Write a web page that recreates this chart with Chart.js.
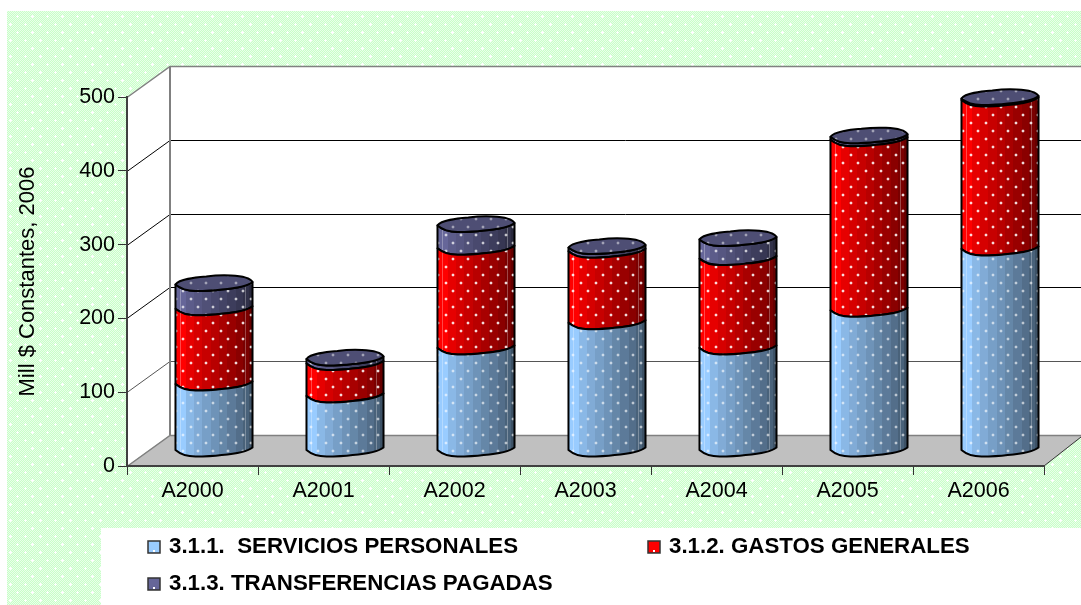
<!DOCTYPE html>
<html><head><meta charset="utf-8">
<style>html,body{margin:0;padding:0;background:#fff}canvas{display:block}</style>
<script src="https://cdn.jsdelivr.net/npm/chart.js@4"></script>
</head><body><canvas id="c" width="1081" height="605"></canvas>
<script>
const categories = ['A2000','A2001','A2002','A2003','A2004','A2005','A2006'];
const serviciosPersonales = [90, 74, 139, 173, 139, 190, 273];
const gastosGenerales = [102, 44, 135, 97, 121, 231, 202];
const transferenciasPagadas = [33, 6, 31, 5, 26, 4, 2];
const seriesNames = ['3.1.1.  SERVICIOS PERSONALES','3.1.2. GASTOS GENERALES','3.1.3. TRANSFERENCIAS PAGADAS'];
const yTicks = [0,100,200,300,400,500];
const yTitle = 'Mill $ Constantes, 2006';

const SERIES_HEX = ['#99CCFF','#FF0000','#666699'];
const SERIES_RGB = [[153,204,255],[255,0,0],[102,102,153]];
const DOT_ALPHA = [.65,.9,.75];
const DEPTH = {x:43,y:-31};

function tile(w,h,draw){const c=document.createElement('canvas');c.width=w;c.height=h;draw(c.getContext('2d'));return c;}
const bgTile = tile(30,16,g=>{
  for(let y=0;y<16;y++)for(let x=0;x<30;x++){g.fillStyle=((x+y)%2)?'#C8FFC8':'#EAFFEA';g.fillRect(x,y,1,1);}
  g.fillStyle='#fff';
  for(const [x,y] of [[2,0],[17,0],[10,8],[25,8]]){g.fillRect(x-1,y,3,1);g.fillRect(x,y-1<0?15:y-1,1,1);g.fillRect(x,y+1,1,1);}
});
const dotTile = tile(30,16,g=>{
  for(const [x,y] of [[2,2],[17,2],[10,10],[25,10]]){
    g.fillStyle='rgba(255,255,255,.95)';g.fillRect(x,y,2,2);
    g.fillStyle='rgba(255,255,255,.25)';g.fillRect(x-1,y,1,2);g.fillRect(x+2,y,1,2);g.fillRect(x,y-1,2,1);g.fillRect(x,y+2,2,1);
  }
});
function mix(rgb,f){return 'rgb('+rgb.map(v=>Math.round(v*f)).join(',')+')';}
function bandGradient(ctx,x0,x1,rgb){
  const g=ctx.createLinearGradient(x0,0,x1,0);
  const stops=[0,.14,.24,.35,.46,.57,.67,.78,.88,.95,1];
  const fac=[1,.9,.84,.78,.72,.66,.6,.54,.48,.4];
  for(let i=0;i<fac.length;i++){g.addColorStop(stops[i],mix(rgb,fac[i]));g.addColorStop(stops[i+1],mix(rgb,fac[i]));}
  return g;
}
function frontArc(ctx,x0,w,Y){
  ctx.bezierCurveTo(x0+.06*w,Y+4,x0+.14*w,Y+6.5,x0+.26*w,Y+6.5);
  ctx.bezierCurveTo(x0+.4*w,Y+6.5,x0+.5*w,Y+6,x0+.6*w,Y+5);
  ctx.bezierCurveTo(x0+.75*w,Y+4,x0+.92*w,Y+2.5,x0+w,Y-2.5);
}
function frontArcReverse(ctx,x0,w,Y){
  ctx.bezierCurveTo(x0+.92*w,Y+2.5,x0+.75*w,Y+4,x0+.6*w,Y+5);
  ctx.bezierCurveTo(x0+.5*w,Y+6,x0+.4*w,Y+6.5,x0+.26*w,Y+6.5);
  ctx.bezierCurveTo(x0+.14*w,Y+6.5,x0+.06*w,Y+4,x0,Y);
}
function backArc(ctx,x0,w,Y){
  ctx.bezierCurveTo(x0+.97*w,Y-4,x0+.88*w,Y-6,x0+.72*w,Y-6.5);
  ctx.bezierCurveTo(x0+.6*w,Y-7,x0+.5*w,Y-6.5,x0+.4*w,Y-5.5);
  ctx.bezierCurveTo(x0+.25*w,Y-4.5,x0+.05*w,Y-3,x0,Y+2.5);
}
Chart.BarElement.prototype.draw = function(ctx){
  const p=this.getProps(['x','y','base','width'],true);
  const ds=SERIES_HEX.indexOf(this.options.backgroundColor);
  const rgb=SERIES_RGB[ds];
  const w=p.width,x0=p.x-w/2+DEPTH.x/2,x1=x0+w;
  const yt=p.y+DEPTH.y/2,yb=p.base+DEPTH.y/2;
  const dots=ctx.createPattern(dotTile,'repeat');
  ctx.save();
  ctx.beginPath();
  ctx.moveTo(x0,yb);
  frontArc(ctx,x0,w,yb);
  ctx.lineTo(x1,yt-2.5);
  frontArcReverse(ctx,x0,w,yt);
  ctx.closePath();
  ctx.fillStyle=bandGradient(ctx,x0,x1,rgb);ctx.fill();
  ctx.save();ctx.clip();
  ctx.globalAlpha=DOT_ALPHA[ds];
  ctx.fillStyle=dots;ctx.fillRect(x0,yt-10,w,yb-yt+20);
  ctx.globalAlpha=1;
  ctx.fillStyle='rgba(255,255,255,.28)';
  ctx.fillRect(Math.round(x0+.06*w),yt-10,1,yb-yt+20);
  ctx.fillRect(Math.round(x0+.9*w),yt-10,1,yb-yt+20);
  ctx.restore();
  ctx.strokeStyle='#000';ctx.lineWidth=2;ctx.lineJoin='round';ctx.stroke();
  if(ds===2){
    ctx.beginPath();ctx.moveTo(x0,yt);
    frontArc(ctx,x0,w,yt);backArc(ctx,x0,w,yt-2.5);ctx.closePath();
    ctx.fillStyle=mix(rgb,.76);ctx.fill();
    ctx.save();ctx.clip();ctx.globalAlpha=.5;ctx.fillStyle=dots;ctx.fillRect(x0,yt-14,w,24);ctx.restore();
    ctx.stroke();
  }
  ctx.restore();
};

const scenery={id:'scenery',
  beforeDraw(chart){
    const ctx=chart.ctx,W=chart.width,H=chart.height,ys=chart.scales.y,a=chart.chartArea;
    ctx.save();
    ctx.fillStyle='#fff';ctx.fillRect(0,0,W,H);
    ctx.fillStyle=ctx.createPattern(bgTile,'repeat');
    ctx.fillRect(7,11,W-7,517);ctx.fillRect(7,528,94,H-528);
    const dx=DEPTH.x,dy=DEPTH.y,l=a.left,r=a.right;
    const y0=ys.getPixelForValue(0),yT=ys.getPixelForValue(500);
    ctx.fillStyle='#fff';
    ctx.beginPath();ctx.moveTo(l,y0);ctx.lineTo(l,yT);ctx.lineTo(l+dx,yT+dy);ctx.lineTo(W,yT+dy);ctx.lineTo(W,y0+dy);ctx.lineTo(l+dx,y0+dy);ctx.closePath();ctx.fill();
    ctx.fillStyle='#C0C0C0';
    ctx.beginPath();ctx.moveTo(l,y0);ctx.lineTo(l+dx,y0+dy);ctx.lineTo(W,y0+dy);ctx.lineTo(W,y0+dy+2);ctx.lineTo(r,y0);ctx.closePath();ctx.fill();
    for(const v of yTicks){
      const y=Math.round(ys.getPixelForValue(v))+.5;
      const edge=(v===0||v===500);
      ctx.strokeStyle=edge?'#808080':(v===100?'#555':'#000');ctx.lineWidth=edge?1.5:1;
      ctx.beginPath();ctx.moveTo(l,y);ctx.lineTo(l+dx,y+dy);ctx.lineTo(W,y+dy);ctx.stroke();
    }
    ctx.strokeStyle='#808080';ctx.lineWidth=2;
    ctx.beginPath();ctx.moveTo(l+dx,yT+dy);ctx.lineTo(l+dx,y0+dy);ctx.stroke();
    ctx.lineWidth=1;ctx.beginPath();ctx.moveTo(r,y0);ctx.lineTo(W,y0+dy+2);ctx.strokeStyle='#333';ctx.stroke();
    ctx.restore();
  },
  afterDraw(chart){
    const ctx=chart.ctx;
    ctx.save();
    ctx.font='bold 22.3px "Liberation Sans"';ctx.textBaseline='middle';
    const spots=[[148,547],[648,547],[148,584]];
    chart.data.datasets.forEach((d,i)=>{
      const [x,y]=spots[i];
      ctx.fillStyle=mix(SERIES_RGB[i],1);ctx.fillRect(x,y-6,12,12);
      ctx.fillStyle='#fff';ctx.fillRect(x+5,y+3,2,2);
      ctx.strokeStyle='#333';ctx.lineWidth=1.5;ctx.strokeRect(x,y-6,12,12);
      ctx.fillStyle='#000';ctx.fillText(d.label,x+21,y);
    });
    ctx.restore();
  }
};

new Chart(document.getElementById('c'),{
  type:'bar',
  data:{labels:categories,datasets:[
    {label:seriesNames[0],data:serviciosPersonales,backgroundColor:SERIES_HEX[0],stack:'s'},
    {label:seriesNames[1],data:gastosGenerales,backgroundColor:SERIES_HEX[1],stack:'s'},
    {label:seriesNames[2],data:transferenciasPagadas,backgroundColor:SERIES_HEX[2],stack:'s'}
  ]},
  options:{
    responsive:false,animation:false,
    layout:{padding:{left:15,top:97,right:37,bottom:0}},
    datasets:{bar:{barPercentage:.588,categoryPercentage:1,clip:false}},
    plugins:{legend:{display:false},tooltip:{enabled:false},title:{display:false}},
    scales:{
      x:{stacked:true,
        grid:{drawOnChartArea:false,drawTicks:true,tickLength:9,color:'#333',lineWidth:1},
        border:{color:'#404040',width:2},
        ticks:{color:'#000',font:{family:'"Liberation Sans"',size:21.5},padding:3,maxRotation:0,autoSkip:false},
        afterFit(s){s.height=139;}},
      y:{stacked:true,min:0,max:500,
        afterBuildTicks(s){s.ticks=yTicks.map(v=>({value:v}));},
        grid:{drawOnChartArea:false,drawTicks:true,tickLength:9,color:'#333',lineWidth:1},
        border:{color:'#404040',width:2},
        ticks:{color:'#000',font:{family:'"Liberation Sans"',size:21.5},padding:3},
        title:{display:true,text:yTitle,color:'#000',font:{family:'"Liberation Sans"',size:22},padding:0},
        afterFit(s){s.width=112;}}
    }
  },
  plugins:[scenery]
});
</script></body></html>
